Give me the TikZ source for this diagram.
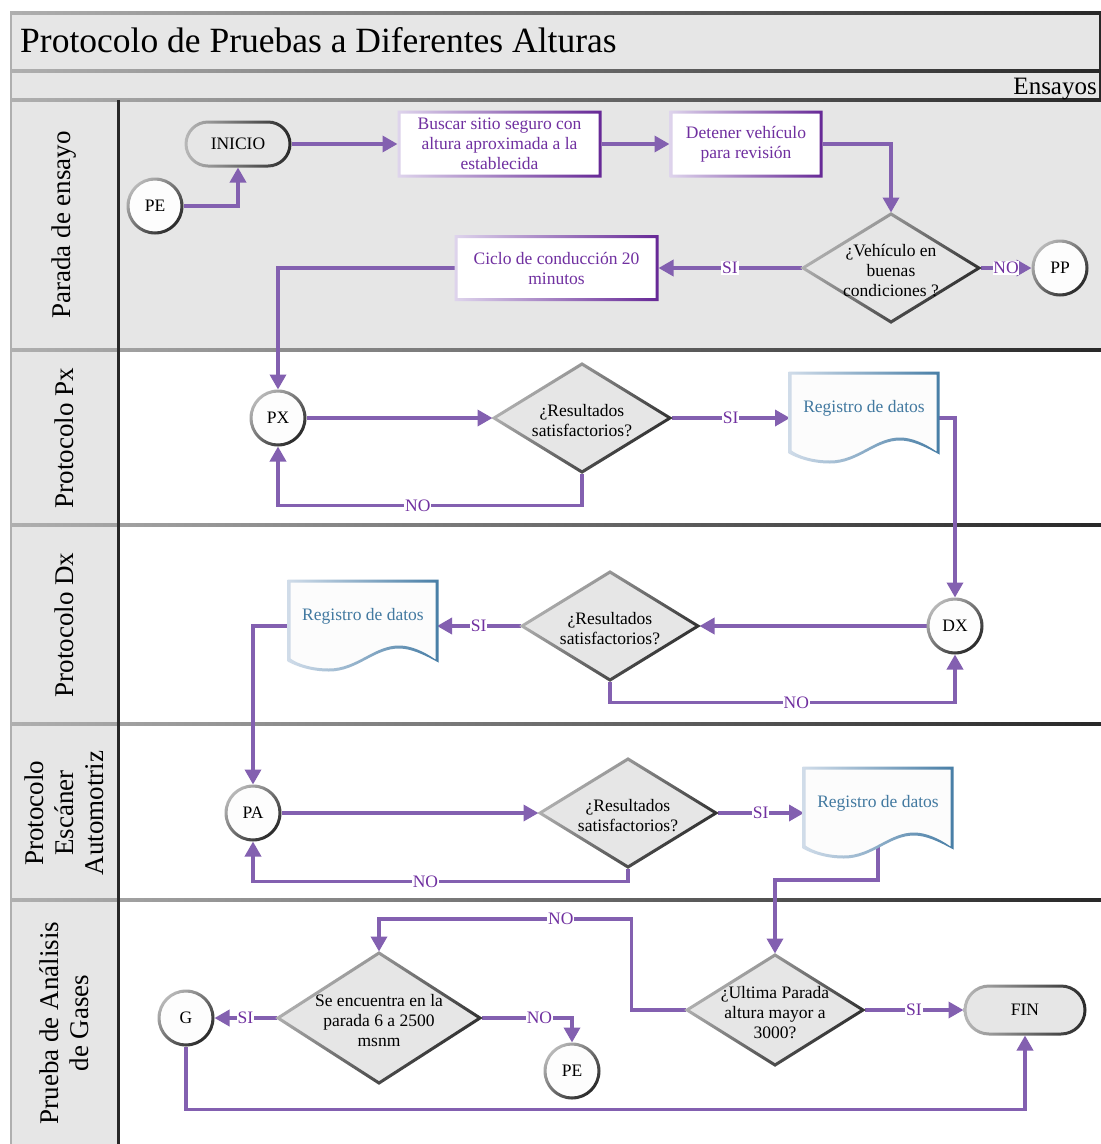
\documentclass[tikz,border=0pt]{standalone}
\usepackage{fontspec}
\setmainfont{Liberation Serif}
\usetikzlibrary{shapes.geometric,arrows.meta,calc}

\definecolor{lanegray}{RGB}{230,230,230}
\definecolor{edgepurple}{RGB}{131,96,176}
\definecolor{txtpurple}{RGB}{112,48,160}
\definecolor{boxlight}{RGB}{222,212,236}
\definecolor{boxdark}{RGB}{102,40,150}
\definecolor{doclight}{RGB}{208,220,233}
\definecolor{docdark}{RGB}{72,126,166}
\definecolor{doctext}{RGB}{66,121,160}
\definecolor{docfill}{RGB}{252,252,252}
\definecolor{circfill}{RGB}{253,253,253}
\definecolor{rimlight}{RGB}{184,184,184}
\definecolor{rimdark}{RGB}{40,40,40}
\definecolor{framelight}{RGB}{175,175,175}
\definecolor{framedark}{RGB}{40,40,40}

\pgfdeclarelayer{bg}
\pgfdeclarelayer{edges}
\pgfdeclarelayer{shapes}
\pgfsetlayers{bg,edges,shapes,main}

\newcommand\nodefont{\fontsize{17.5}{20}\selectfont}
\newcommand\titlefont{\fontsize{35.5}{40}\selectfont}
\newcommand\headfont{\fontsize{25}{28}\selectfont}
\newcommand\lanefont{\fontsize{27}{30}\selectfont}
\newcommand\edgefont{\fontsize{17.5}{18}\selectfont}

% text of a decision: takes no room, so the diamond keeps its set size
\newcommand\ztext[1]{\makebox[0pt][c]{\smash{\raisebox{-8.5pt}{\begin{tabular}[c]{@{}c@{}}#1\end{tabular}}}}}

% outline of a document symbol, grown outwards by #1
\newcommand\docoutline[1]{({-(#1)},{-(#1)}) -- ({148+#1},{-(#1)}) -- ({148+#1},{80+#1})
  .. controls (135,{72+#1}) and (122,{66+#1}) .. (110,{66+#1})
  .. controls (85,{66+#1}) and (68,{89+#1}) .. (40,{89+#1})
  .. controls (22,{89+#1}) and (8,{84+#1}) .. ({-(#1)},{79+#1}) -- cycle}

% shapes with shaded rims, drawn under the node texts
\newcommand\fcCircle[1]{%
  \begin{pgfonlayer}{shapes}
  \fill[circfill] (#1.center) circle[radius=27pt];
  \shade[even odd rule, top color=rimlight, bottom color=rimdark, shading angle=45]
    (#1.center) circle[radius=28.5pt] (#1.center) circle[radius=25.5pt];
  \end{pgfonlayer}}
\newcommand\fcDiamond[3]{%
  \begin{pgfonlayer}{shapes}
  \fill[lanegray] ($(#1.center)+(0,-#3)$) -- ($(#1.center)+(#2,0)$)
    -- ($(#1.center)+(0,#3)$) -- ($(#1.center)+(-#2,0)$) -- cycle;
  \shade[even odd rule, top color=rimlight, bottom color=rimdark, shading angle=45]
    ($(#1.center)+(0,{-#3-1.8})$) -- ($(#1.center)+({#2+2.8},0)$)
    -- ($(#1.center)+(0,{#3+1.8})$) -- ($(#1.center)+({-#2-2.8},0)$) -- cycle
    ($(#1.center)+(0,{-#3+1.8})$) -- ($(#1.center)+({#2-2.8},0)$)
    -- ($(#1.center)+(0,{#3-1.8})$) -- ($(#1.center)+({-#2+2.8},0)$) -- cycle;
  \end{pgfonlayer}}
\newcommand\fcBox[1]{%
  \begin{pgfonlayer}{shapes}
  \fill[white] ([shift={(1.5,1.5)}]#1.north west) rectangle ([shift={(-1.5,-1.5)}]#1.south east);
  \shade[even odd rule, left color=boxlight, right color=boxdark]
    (#1.north west) rectangle (#1.south east)
    ([shift={(3,3)}]#1.north west) rectangle ([shift={(-3,-3)}]#1.south east);
  \end{pgfonlayer}}
\newcommand\fcTerm[4]{%
  \begin{pgfonlayer}{shapes}
  \fill[lanegray, rounded corners=#2pt] ([shift={(1.5,1.5)}]#1.north west) rectangle ([shift={(-1.5,-1.5)}]#1.south east);
  \shade[even odd rule, left color=rimlight, right color=rimdark]
    [rounded corners=#3pt] (#1.north west) rectangle (#1.south east)
    [rounded corners=#4pt] ([shift={(3,3)}]#1.north west) rectangle ([shift={(-3,-3)}]#1.south east);
  \end{pgfonlayer}}
\newcommand\fcDoc[1]{%
  \begin{pgfonlayer}{shapes}
  \begin{scope}[shift={(#1.north west)}]
  \fill[docfill] \docoutline{0};
  \shade[even odd rule, left color=doclight, right color=docdark]
    \docoutline{1.5} \docoutline{(-1.5)};
  \end{scope}
  \end{pgfonlayer}}

\tikzset{
  conn/.style={draw=edgepurple, line width=3.5pt, -{Triangle[length=15pt,width=16pt]}},
  elabel/.style={fill=white, text=txtpurple, font=\edgefont, inner sep=0.8pt},
  shapebase/.style={inner sep=0pt, outer sep=1.5pt, font=\nodefont},
  circnode/.style={shapebase, circle, minimum size=54pt},
  dianode/.style={shapebase, diamond, minimum width=176pt, minimum height=108pt},
  procnode/.style={shapebase, rectangle, text=txtpurple, align=center},
  termnode/.style={shapebase, rectangle},
  docnode/.style={rectangle, inner sep=0pt, outer sep=0pt, minimum width=148pt,
    minimum height=90pt, font=\nodefont, text=doctext, text height=13pt, text depth=25pt},
  lanelabel/.style={rotate=90, align=center, font=\lanefont},
}

\begin{document}
\begin{tikzpicture}[x=1pt,y=-1pt]
\useasboundingbox (0,0) rectangle (1101,1144);

% pool, header and lanes
\begin{pgfonlayer}{bg}
  \fill[white] (0,0) rectangle (1101,1144);
  \fill[lanegray] (10,12) rectangle (1101,350);
  \fill[lanegray] (10,350) rectangle (119,1144);
  \foreach \yy in {12.5,71,100,350,525,724,900}
    \shade[left color=framelight, right color=framedark] (10,\yy-1.5) rectangle (1101,\yy+1.5);
  \fill[framelight] (9.5,12) rectangle (11.5,1144);
  \fill[framedark] (117,100) rectangle (120,1144);
  \fill[framedark] (1098.5,12) rectangle (1101,100);
\end{pgfonlayer}

\node[anchor=base west, font=\titlefont, inner sep=0pt] (title) at (20,52) {Protocolo de Pruebas a Diferentes Alturas};
\node[anchor=base east, font=\headfont, inner sep=0pt] (ensayos) at (1097,94) {Ensayos};

\node[lanelabel] (lane1) at (64,225) {Parada de ensayo};
\node[lanelabel] (lane2) at (64,438) {Protocolo Px};
\node[lanelabel] (lane3) at (64,625) {Protocolo Dx};
\node[lanelabel] (lane4) at (64,813) {Protocolo\\Escáner\\Automotriz};
\node[lanelabel] (lane5) at (64,1023) {Prueba de Análisis\\de Gases};

% lane 1: parada de ensayo
\node[termnode, minimum width=104pt, minimum height=44pt] (inicio) at (238,144) {INICIO};
\node[circnode] (pe1) at (155,206) {PE};
\node[procnode, minimum width=201pt, minimum height=64pt] (buscar) at (499.5,144) {Buscar sitio seguro con\\altura aproximada a la\\establecida};
\node[procnode, minimum width=150pt, minimum height=64pt] (detener) at (746,144) {Detener vehículo\\para revisión};
\node[dianode] (q1) at (891,268) {\ztext{¿Vehículo en\\buenas\\condiciones ?}};
\node[circnode] (pp) at (1060,268) {PP};
\node[procnode, minimum width=201pt, minimum height=63pt] (ciclo) at (556.5,268) {Ciclo de conducción 20\\minutos};

% lane 2: protocolo Px
\node[circnode] (px) at (278,418) {PX};
\node[dianode] (q2) at (582,418) {\ztext{¿Resultados\\satisfactorios?}};
\node[docnode] (doc1) at (864,418) {Registro de datos};

% lane 3: protocolo Dx
\node[circnode] (dx) at (955,626) {DX};
\node[dianode] (q3) at (610,626) {\ztext{¿Resultados\\satisfactorios?}};
\node[docnode] (doc2) at (363,626) {Registro de datos};

% lane 4: escáner automotriz
\node[circnode] (pa) at (253,813) {PA};
\node[dianode] (q4) at (628,813) {\ztext{¿Resultados\\satisfactorios?}};
\node[docnode] (doc3) at (878,813) {Registro de datos};

% lane 5: análisis de gases
\node[dianode, minimum height=110pt] (q5) at (775,1010) {\ztext{¿Ultima Parada\\altura mayor a\\3000?}};
\node[termnode, minimum width=120pt, minimum height=48pt] (fin) at (1025,1010) {FIN};
\node[dianode, minimum width=202pt, minimum height=130pt] (q6) at (379,1018) {\ztext{Se encuentra en la\\parada 6 a 2500\\msnm}};
\node[circnode] (g) at (186,1018) {G};
\node[circnode] (pe2) at (572,1071) {PE};

% shape outlines
\fcTerm{inicio}{22}{23.5}{20.5}
\fcTerm{fin}{24}{25.5}{22.5}
\fcCircle{pe1}\fcCircle{pp}\fcCircle{px}\fcCircle{dx}\fcCircle{pa}\fcCircle{g}\fcCircle{pe2}
\fcBox{buscar}\fcBox{detener}\fcBox{ciclo}
\fcDiamond{q1}{88}{54}\fcDiamond{q2}{88}{54}\fcDiamond{q3}{88}{54}\fcDiamond{q4}{88}{54}
\fcDiamond{q5}{88}{55}\fcDiamond{q6}{101}{65}
\fcDoc{doc1}\fcDoc{doc2}\fcDoc{doc3}

% connectors
\begin{pgfonlayer}{edges}
  \draw[conn] (pe1.east) -| (inicio.south);
  \draw[conn] (inicio.east) -- (inicio.east -| buscar.west);
  \draw[conn] (buscar.east) -- (buscar.east -| detener.west);
  \draw[conn] (detener.east) -| (q1.north);
  \draw[conn] (q1.west) -- node[elabel]{SI} (ciclo.east);
  \draw[conn] (q1.east) -- node[elabel]{NO} (pp.west);
  \draw[conn] (ciclo.west) -| (px.north);

  \draw[conn] (px.east) -- (q2.west);
  \draw[conn] (q2.east) -- node[elabel]{SI} (doc1.west);
  \draw[conn] (q2.south) -- ++(0,32) -| node[elabel, pos=0.27]{NO} (px.south);
  \draw[conn] (doc1.east) -| (dx.north);

  \draw[conn] (dx.west) -- (q3.east);
  \draw[conn] (q3.west) -- node[elabel]{SI} (doc2.east);
  \draw[conn] (q3.south) -- ++(0,21) -| node[elabel, pos=0.27]{NO} (dx.south);
  \draw[conn] (doc2.west) -| (pa.north);

  \draw[conn] (pa.east) -- (q4.west);
  \draw[conn] (q4.east) -- node[elabel]{SI} (doc3.west);
  \draw[conn] (q4.south) -- ++(0,13) -| node[elabel, pos=0.27]{NO} (pa.south);
  \draw[conn] (doc3.center) -- ++(0,67) -| (q5.north);

  \draw[conn] (q5.east) -- node[elabel]{SI} (fin.west);
  \draw[conn] (q5.west) -- ++(-54,0) -- ++(0,-91) -| node[elabel, pos=0.14]{NO} (q6.north);
  \draw[conn] (q6.west) -- node[elabel]{SI} (g.east);
  \draw[conn] (q6.east) -| node[elabel, pos=0.32]{NO} (pe2.north);
  \draw[conn] (g.south) -- ++(0,63) -| (fin.south);
\end{pgfonlayer}
\end{tikzpicture}
\end{document}
